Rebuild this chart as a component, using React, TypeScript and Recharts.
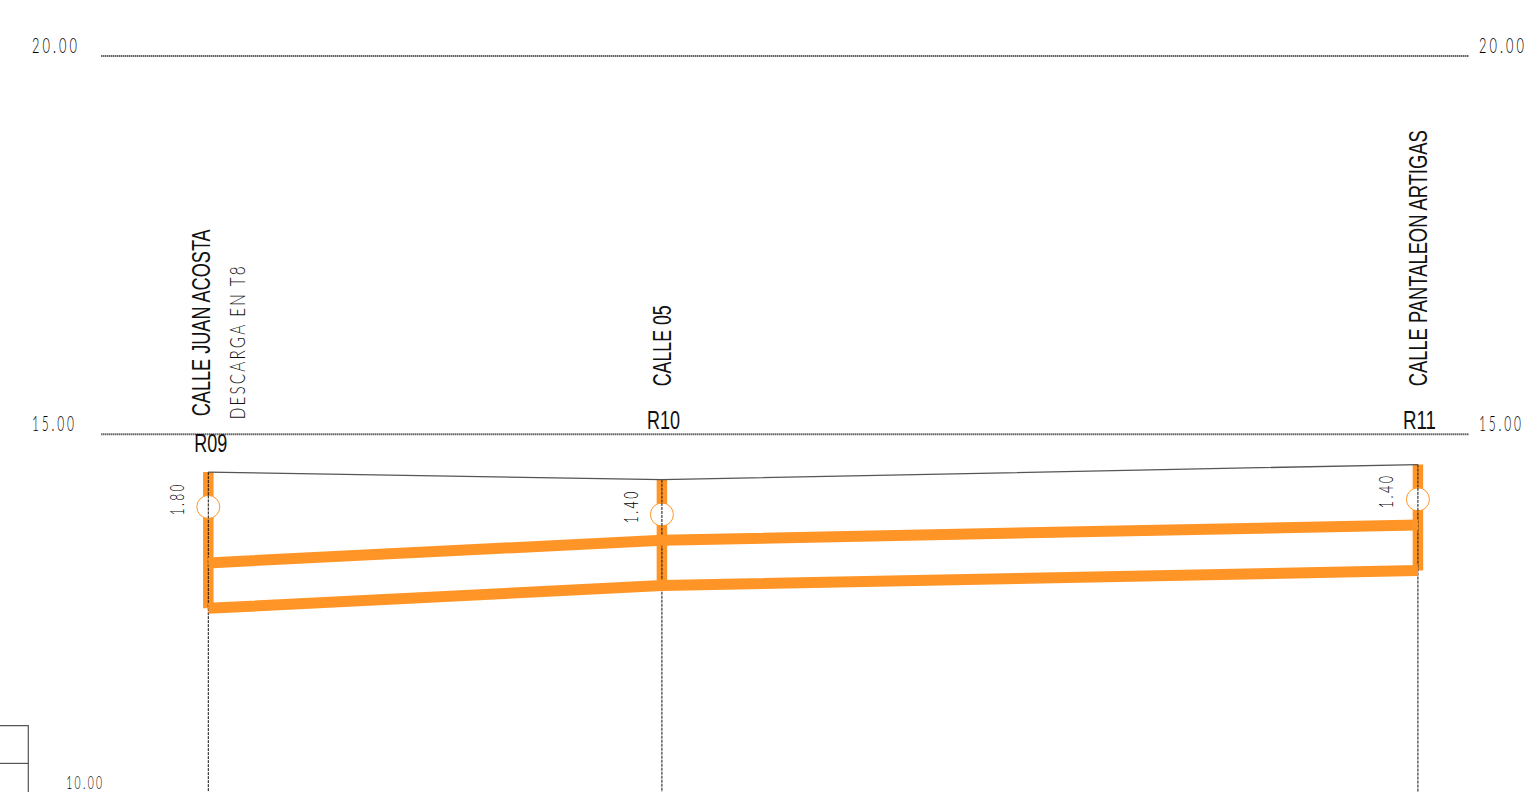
import { ComposedChart, Line, ReferenceDot, XAxis, YAxis } from "recharts";

// stations (m) and levels (m) for each manhole
const stations = [0, 60, 160];
const manholes = ["R09", "R10", "R11"];
const streets = ["CALLE JUAN ACOSTA", "CALLE 05", "CALLE PANTALEON ARTIGAS"];
const depths = ["1.80", "1.40", "1.40"];
const groundLevels = [14.5, 14.4, 14.6];
const crownLevels = [13.3, 13.6, 13.8];
const invertLevels = [12.7, 13.0, 13.2];
const markerLevels = [14.04, 13.94, 14.14];
const levelTicks = [15, 20];
const discharge = "DESCARGA EN T8";
const lowerLevelLabel = "10.00";

const WIDTH = 1528;
const HEIGHT = 792;
const X_DOMAIN = [-27.553, 174.56];
const Y_DOMAIN = [10.272, 20.74];

const ORANGE = "#ff9526";
const THIN_FONT = "Lato, 'Open Sans', sans-serif";
const NARROW_FONT = "'Liberation Sans Narrow', 'Liberation Sans', sans-serif";

const toPoints = (ys: number[]) => stations.map((x, i) => ({ x, y: ys[i] }));
const groundLine = toPoints(groundLevels);
const crownLine = toPoints(crownLevels);
const invertLine = toPoints(invertLevels);
const markers = toPoints(markerLevels);

const gridLine = (y: number) => [
    { x: -14.19, y },
    { x: 166.76, y },
];

const tickSqueeze: Record<number, number> = { 15: 0.57, 20: 0.61 };

function LevelTick({ y, payload, x0 }: any) {
    return (
        <text
            fontFamily={THIN_FONT}
            fontWeight={300}
            fontSize={21}
            letterSpacing={5}
            fill="#000"
            transform={`translate(${x0} ${y - 3}) scale(${tickSqueeze[payload.value]} 1)`}
        >
            {payload.value.toFixed(2)}
        </text>
    );
}

// white manhole ring, the station line still shows through it
function MarkerDot({ cx, cy, key }: any) {
    return (
        <g key={key}>
            <circle cx={cx} cy={cy} r={11.5} fill="#fff" stroke={ORANGE} strokeWidth={1} />
            <line x1={cx} x2={cx} y1={cy - 11.5} y2={cy + 11.5} stroke="#111" strokeDasharray="3 1" />
        </g>
    );
}

// text pinned on the 15.00 level, dx/dy in px from that point
function Note({ station, dx, dy, text, length, size, rotate, font, weight, fill, spacing }: any) {
    return (
        <ReferenceDot
            yAxisId="left"
            x={station}
            y={15}
            r={0}
            shape={(p: any) => {
                const tx = p.cx + dx;
                const ty = p.cy + dy;
                return (
                    <text
                        x={tx}
                        y={ty}
                        fontFamily={font}
                        fontWeight={weight}
                        fontSize={size}
                        letterSpacing={spacing}
                        fill={fill}
                        textLength={length}
                        lengthAdjust="spacingAndGlyphs"
                        transform={rotate ? `rotate(-90 ${tx} ${ty})` : undefined}
                    >
                        {text}
                    </text>
                );
            }}
        />
    );
}

function Path({ data, stroke, width, dash }: any) {
    return (
        <Line
            yAxisId="left"
            data={data}
            dataKey="y"
            type="linear"
            stroke={stroke}
            strokeWidth={width}
            strokeDasharray={dash}
            dot={false}
            activeDot={false}
            isAnimationActive={false}
        />
    );
}

const streetPlace = [
    { dx: 2, dy: -18, length: 187 },
    { dx: 9, dy: -48, length: 81 },
    { dx: 9, dy: -48, length: 256 },
];
const namePlace = [
    { dx: -14, dy: 18 },
    { dx: -15, dy: -5 },
    { dx: -15, dy: -5 },
];
const depthPlace = [
    { dx: -24, dy: 81, length: 33 },
    { dx: -24, dy: 89, length: 34 },
    { dx: -25, dy: 74, length: 35 },
];

export default function App() {
    return (
        <div style={{ position: "absolute", left: 0, top: 0, width: WIDTH, height: HEIGHT, background: "#fff" }}>
            <ComposedChart width={WIDTH} height={HEIGHT} margin={{ top: 0, right: 0, bottom: 0, left: 0 }}>
                <XAxis type="number" dataKey="x" domain={X_DOMAIN} hide allowDataOverflow />
                <YAxis
                    yAxisId="left"
                    type="number"
                    domain={Y_DOMAIN}
                    ticks={levelTicks}
                    width={1}
                    mirror
                    axisLine={false}
                    tickLine={false}
                    allowDataOverflow
                    interval={0}
                    tick={<LevelTick x0={32} />}
                />
                <YAxis
                    yAxisId="right"
                    orientation="right"
                    type="number"
                    domain={Y_DOMAIN}
                    ticks={levelTicks}
                    width={1}
                    mirror
                    axisLine={false}
                    tickLine={false}
                    allowDataOverflow
                    interval={0}
                    tick={<LevelTick x0={1479} />}
                />

                {levelTicks.map((t) => Path({ data: gridLine(t), stroke: "#666", width: 2, dash: "1.5 0.5" }))}

                {Path({ data: [{ x: -27.553, y: 11.15 }, { x: -23.81, y: 11.15 }, { x: -23.81, y: 10.272 }], stroke: "#555", width: 1.2 })}
                {Path({ data: [{ x: -27.553, y: 10.65 }, { x: -23.81, y: 10.65 }], stroke: "#555", width: 1.2 })}

                {stations.map((x, i) =>
                    Path({ data: [{ x, y: groundLevels[i] }, { x, y: invertLevels[i] }], stroke: ORANGE, width: 10.5 })
                )}

                {stations.map((x, i) =>
                    Path({ data: [{ x, y: groundLevels[i] }, { x, y: 10.272 }], stroke: "#111", width: 1, dash: "3 1" })
                )}

                <Line
                    yAxisId="left"
                    data={markers}
                    dataKey="y"
                    stroke="none"
                    dot={MarkerDot}
                    activeDot={false}
                    isAnimationActive={false}
                />

                {Path({ data: groundLine, stroke: "#555", width: 1.3 })}
                {Path({ data: crownLine, stroke: ORANGE, width: 11 })}
                {Path({ data: invertLine, stroke: ORANGE, width: 11 })}

                {stations.map((x, i) =>
                    Note({ station: x, ...streetPlace[i], text: streets[i], size: 26, rotate: true, font: NARROW_FONT, weight: 400, fill: "#111" })
                )}
                {stations.map((x, i) =>
                    Note({ station: x, ...namePlace[i], text: manholes[i], length: 33, size: 25, font: NARROW_FONT, weight: 400, fill: "#111" })
                )}
                {stations.map((x, i) =>
                    Note({ station: x, ...depthPlace[i], text: depths[i], size: 20, rotate: true, font: THIN_FONT, weight: 300, fill: "#000", spacing: 4 })
                )}
                {Note({ station: 0, dx: 37, dy: -15, text: discharge, length: 155, size: 21, rotate: true, font: THIN_FONT, weight: 300, fill: "#111", spacing: 3 })}
                {Note({ station: 0, dx: -142, dy: 355, text: lowerLevelLabel, length: 38, size: 18, font: THIN_FONT, weight: 300, fill: "#000", spacing: 4 })}
            </ComposedChart>
        </div>
    );
}
